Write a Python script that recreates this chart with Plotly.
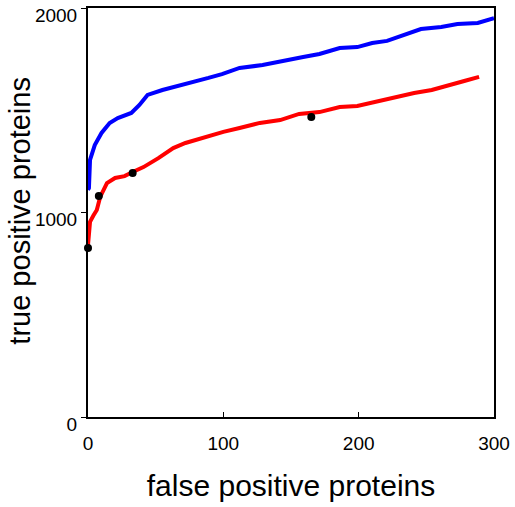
import plotly.graph_objects as go

blue_fp = [0, 0.7, 1.5, 5, 10, 16, 22, 32, 38, 44, 55, 64, 79, 89, 99, 112, 129, 142, 159, 171, 186, 199, 210, 221, 234, 246, 261, 273, 288, 299, 300]
blue_tp = [1110, 1120, 1257, 1330, 1389, 1438, 1462, 1487, 1526, 1575, 1599, 1614, 1638, 1658, 1677, 1707, 1721, 1736, 1760, 1775, 1804, 1809, 1829, 1839, 1868, 1897, 1907, 1922, 1927, 1946, 1950]

red_fp = [0, 0.5, 1.5, 4, 6.5, 9, 14, 20, 27, 33, 41, 52, 63, 72, 84, 100, 112, 127, 142, 156, 171, 186, 199, 212, 227, 241, 254, 266, 278, 289]
red_tp = [841, 900, 954, 985, 1012, 1076, 1144, 1169, 1178, 1198, 1222, 1266, 1315, 1340, 1364, 1394, 1413, 1438, 1452, 1482, 1491, 1516, 1521, 1540, 1565, 1584, 1599, 1623, 1643, 1663]

pt_fp = [0, 8, 33, 165]
pt_tp = [826, 1081, 1193, 1467]

fig = go.Figure()
fig.add_trace(go.Scatter(x=blue_fp, y=blue_tp, mode="lines",
                         line=dict(color="#0000ff", width=4), showlegend=False))
fig.add_trace(go.Scatter(x=red_fp, y=red_tp, mode="lines",
                         line=dict(color="#ff0000", width=4), showlegend=False))
fig.add_trace(go.Scatter(x=pt_fp, y=pt_tp, mode="markers",
                         marker=dict(color="black", size=8), showlegend=False,
                         cliponaxis=False))

font = "Liberation Sans, Arial, sans-serif"
fig.update_layout(
    width=515, height=507,
    margin=dict(l=88, r=21, t=8, b=90),
    paper_bgcolor="white", plot_bgcolor="white",
    font=dict(family=font, color="black"),
    annotations=[dict(
        text="true positive proteins", textangle=-90,
        xref="paper", yref="paper", x=-0.168, y=0.504,
        xanchor="center", yanchor="middle", showarrow=False,
        font=dict(size=29, family=font, color="black"),
    )],
)
fig.update_xaxes(
    range=[0, 300], tickvals=[0, 100, 200, 300], ticktext=["0", "100", "200", "300"],
    ticks="inside", ticklen=5, tickwidth=1, tickcolor="black",
    showline=True, linecolor="black", linewidth=2, mirror=True,
    showgrid=False, zeroline=False, automargin=False,
    tickfont=dict(size=19, family=font), ticklabelstandoff=8,
    title=dict(text="false positive proteins", font=dict(size=30, family=font), standoff=22),
)
fig.update_yaxes(
    range=[0, 2000], tickvals=[0, 1000, 2000], ticktext=["0", "1000", "2000"],
    ticks="outside", ticklen=5, tickwidth=1, tickcolor="black",
    showline=True, linecolor="black", linewidth=2, mirror=True,
    showgrid=False, zeroline=False, automargin=False,
    tickfont=dict(size=19, family=font), ticklabelshift=7, ticklabelstandoff=0,
)
fig.write_html("out.html", config={"displayModeBar": False},
               post_script="document.body.style.margin='0px';document.body.style.overflow='hidden';")
